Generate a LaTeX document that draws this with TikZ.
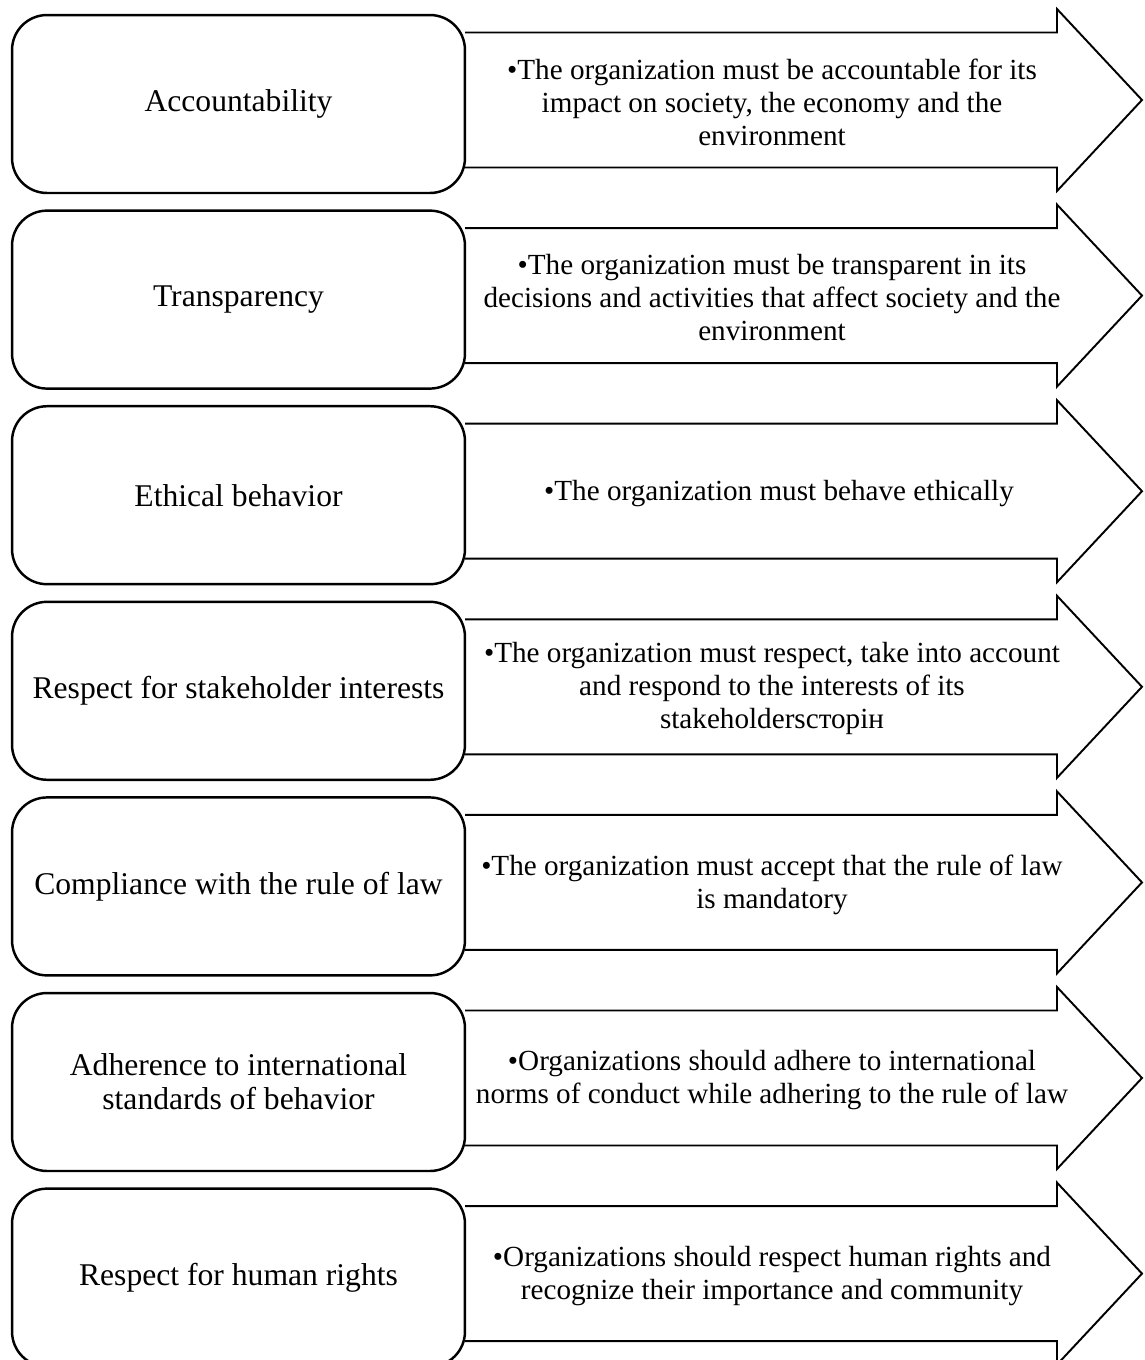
\documentclass[tikz,border=0pt]{standalone}
\usepackage{fontspec}
\setmainfont{Liberation Serif}

\begin{document}
\begin{tikzpicture}[x=0.02cm, y=-0.02cm,
    principle/.style={draw, line width=1.4pt, fill=white, rounded corners=0.7cm,
        minimum width=9.06cm, minimum height=3.56cm, align=center,
        font=\fontsize{18}{19.2}\selectfont},
    stripe/.style={draw, line width=1.1pt},
    rule/.style={align=center, font=\fontsize{16.6}{18.8}\selectfont}]
                \useasboundingbox (0,0) rectangle (1144,1360);
                \clip (0,0) rectangle (1144,1360);
                % Arrows
                \foreach \c in {100,295.6,491.2,686.8,882.4,1078,1273.6}
                    \draw[stripe] (465,\c-67.5) -- (1057,\c-67.5) -- (1057,\c-91) -- (1142,\c)
                        -- (1057,\c+91) -- (1057,\c+67.5) -- (465,\c+67.5);

                % Principles
                \node[principle] (p1) at (238.5, 104) {Accountability};
                \node[principle] (p2) at (238.5, 299.6) {Transparency};
                \node[principle] (p3) at (238.5, 495.2) {Ethical behavior};
                \node[principle] (p4) at (238.5, 690.8) {Respect for stakeholder interests};
                \node[principle] (p5) at (238.5, 886.4) {Compliance with the rule of law};
                \node[principle] (p6) at (238.5, 1082) {Adherence to international\\standards of behavior};
                \node[principle] (p7) at (238.5, 1277.6) {Respect for human rights};

                % Descriptions
                \node[rule] (d1) at (772, 102) {•The organization must be accountable for its\\impact on society, the economy and the\\environment};
                \node[rule] (d2) at (772, 297.6) {•The organization must be transparent in its\\decisions and activities that affect society and the\\environment};
                \node[rule] (d3) at (779, 493.2) {•The organization must behave ethically};
                \node[rule] (d4) at (772, 688.8) {•The organization must respect, take into account\\and respond to the interests of its\\stakeholdersсторін};
                \node[rule] (d5) at (772, 884.4) {•The organization must accept that the rule of law\\is mandatory};
                \node[rule] (d6) at (772, 1080) {•Organizations should adhere to international\\norms of conduct while adhering to the rule of law};
                \node[rule] (d7) at (772, 1275.6) {•Organizations should respect human rights and\\recognize their importance and community};
            \end{tikzpicture}
\end{document}
